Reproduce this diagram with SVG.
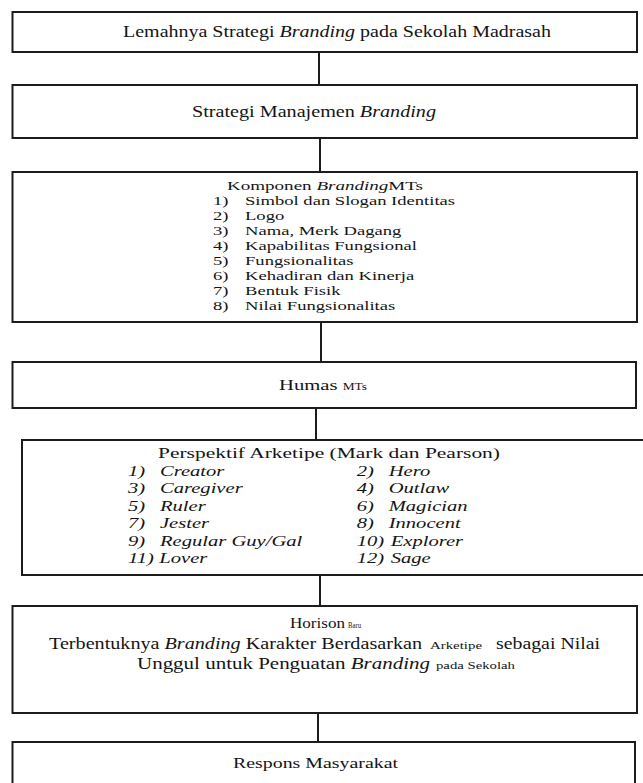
<svg xmlns="http://www.w3.org/2000/svg" width="643" height="783" viewBox="0 0 643 783">
<defs>
<style>
.box{fill:#fff;stroke:#1c1c1c;stroke-width:2}
.ln{stroke:#1c1c1c;stroke-width:2;fill:none}
</style>
</defs>
<rect width="643" height="783" fill="#fff"/>
<g id="connectors">
<line class="ln" x1="319" y1="52" x2="319" y2="85"/>
<line class="ln" x1="320" y1="138" x2="320" y2="172"/>
<line class="ln" x1="321" y1="322" x2="321" y2="362"/>
<line class="ln" x1="316" y1="408" x2="316" y2="440"/>
<line class="ln" x1="320" y1="575" x2="320" y2="606"/>
<line class="ln" x1="318" y1="713" x2="318" y2="742"/>
</g>
<g id="n1">
<rect class="box" x="12.5" y="12" width="624.5" height="40"/>
<text font-family="Liberation Serif" font-size="16" fill="#141414" x="123" y="37" textLength="428" lengthAdjust="spacingAndGlyphs">Lemahnya Strategi <tspan font-style="italic">Branding</tspan> pada Sekolah Madrasah</text>
</g>
<g id="n2">
<rect class="box" x="12.5" y="85" width="624.5" height="53"/>
<text font-family="Liberation Serif" font-size="16" fill="#141414" x="192" y="117" textLength="244" lengthAdjust="spacingAndGlyphs">Strategi Manajemen <tspan font-style="italic">Branding</tspan></text>
</g>
<g id="n3">
<rect class="box" x="12.5" y="172" width="624.5" height="150"/>
<text font-family="Liberation Serif" font-size="13" fill="#141414" x="227" y="190" textLength="196" lengthAdjust="spacingAndGlyphs">Komponen <tspan font-style="italic">Branding</tspan>MTs</text>
<g transform="translate(213,0) scale(1.43,1)" font-family="Liberation Serif" font-size="13" fill="#141414">
<text font-family="Liberation Serif" x="0" y="205">1)</text><text font-family="Liberation Serif" x="22.4" y="205">Simbol dan Slogan Identitas</text>
<text font-family="Liberation Serif" x="0" y="220">2)</text><text font-family="Liberation Serif" x="22.4" y="220">Logo</text>
<text font-family="Liberation Serif" x="0" y="235">3)</text><text font-family="Liberation Serif" x="22.4" y="235">Nama, Merk Dagang</text>
<text font-family="Liberation Serif" x="0" y="250">4)</text><text font-family="Liberation Serif" x="22.4" y="250">Kapabilitas Fungsional</text>
<text font-family="Liberation Serif" x="0" y="265">5)</text><text font-family="Liberation Serif" x="22.4" y="265">Fungsionalitas</text>
<text font-family="Liberation Serif" x="0" y="280">6)</text><text font-family="Liberation Serif" x="22.4" y="280">Kehadiran dan Kinerja</text>
<text font-family="Liberation Serif" x="0" y="295">7)</text><text font-family="Liberation Serif" x="22.4" y="295">Bentuk Fisik</text>
<text font-family="Liberation Serif" x="0" y="310">8)</text><text font-family="Liberation Serif" x="22.4" y="310">Nilai Fungsionalitas</text>
</g>
</g>
<g id="n4">
<rect class="box" x="12.5" y="362" width="623.5" height="46"/>
<text font-family="Liberation Serif" font-size="15.5" fill="#141414" x="279" y="390" textLength="88" lengthAdjust="spacingAndGlyphs">Humas <tspan font-size="10">MTs</tspan></text>
</g>
<g id="n5">
<rect class="box" x="22" y="440" width="640" height="135"/>
<text font-family="Liberation Serif" font-size="15.5" fill="#141414" x="158" y="458" textLength="342" lengthAdjust="spacingAndGlyphs">Perspektif Arketipe (Mark dan Pearson)</text>
<g transform="translate(128,0) scale(1.33,1)" font-family="Liberation Serif" font-size="15.5" font-style="italic" fill="#141414">
<text font-family="Liberation Serif" x="0" y="476">1)</text><text font-family="Liberation Serif" x="24" y="476">Creator</text>
<text font-family="Liberation Serif" x="172" y="476">2)</text><text font-family="Liberation Serif" x="196" y="476">Hero</text>
<text font-family="Liberation Serif" x="0" y="493.4">3)</text><text font-family="Liberation Serif" x="24" y="493.4">Caregiver</text>
<text font-family="Liberation Serif" x="172" y="493.4">4)</text><text font-family="Liberation Serif" x="196" y="493.4">Outlaw</text>
<text font-family="Liberation Serif" x="0" y="510.8">5)</text><text font-family="Liberation Serif" x="24" y="510.8">Ruler</text>
<text font-family="Liberation Serif" x="172" y="510.8">6)</text><text font-family="Liberation Serif" x="196" y="510.8">Magician</text>
<text font-family="Liberation Serif" x="0" y="528.2">7)</text><text font-family="Liberation Serif" x="24" y="528.2">Jester</text>
<text font-family="Liberation Serif" x="172" y="528.2">8)</text><text font-family="Liberation Serif" x="196" y="528.2">Innocent</text>
<text font-family="Liberation Serif" x="0" y="545.6">9)</text><text font-family="Liberation Serif" x="24" y="545.6">Regular Guy/Gal</text>
<text font-family="Liberation Serif" x="172" y="545.6">10)</text><text font-family="Liberation Serif" x="197.5" y="545.6">Explorer</text>
<text font-family="Liberation Serif" x="0" y="563">11)</text><text font-family="Liberation Serif" x="23.5" y="563">Lover</text>
<text font-family="Liberation Serif" x="172" y="563">12)</text><text font-family="Liberation Serif" x="197.5" y="563">Sage</text>
</g>
</g>
<g id="n6">
<rect class="box" x="12.5" y="606" width="624.5" height="107"/>
<text font-family="Liberation Serif" font-size="14" fill="#141414" x="290" y="628" textLength="55" lengthAdjust="spacingAndGlyphs">Horison</text>
<text font-family="Liberation Serif" font-size="8" fill="#141414" x="348" y="628" textLength="13" lengthAdjust="spacingAndGlyphs">Baru</text>
<text font-family="Liberation Serif" font-size="16" fill="#141414" x="49" y="649" textLength="373" lengthAdjust="spacingAndGlyphs">Terbentuknya <tspan font-style="italic">Branding</tspan> Karakter Berdasarkan</text>
<text font-family="Liberation Serif" font-size="10" fill="#141414" x="430" y="649" textLength="52" lengthAdjust="spacingAndGlyphs">Arketipe</text>
<text font-family="Liberation Serif" font-size="16" fill="#141414" x="496" y="649" textLength="104" lengthAdjust="spacingAndGlyphs">sebagai Nilai</text>
<text font-family="Liberation Serif" font-size="16" fill="#141414" x="137" y="669" textLength="293" lengthAdjust="spacingAndGlyphs">Unggul  untuk Penguatan <tspan font-style="italic">Branding</tspan></text>
<text font-family="Liberation Serif" font-size="10.5" fill="#141414" x="436" y="669" textLength="79" lengthAdjust="spacingAndGlyphs">pada Sekolah</text>
</g>
<g id="n7">
<rect class="box" x="12.5" y="742" width="622.5" height="60"/>
<text font-family="Liberation Serif" font-size="15.5" fill="#141414" x="233" y="768" textLength="165" lengthAdjust="spacingAndGlyphs">Respons Masyarakat</text>
</g>
</svg>
